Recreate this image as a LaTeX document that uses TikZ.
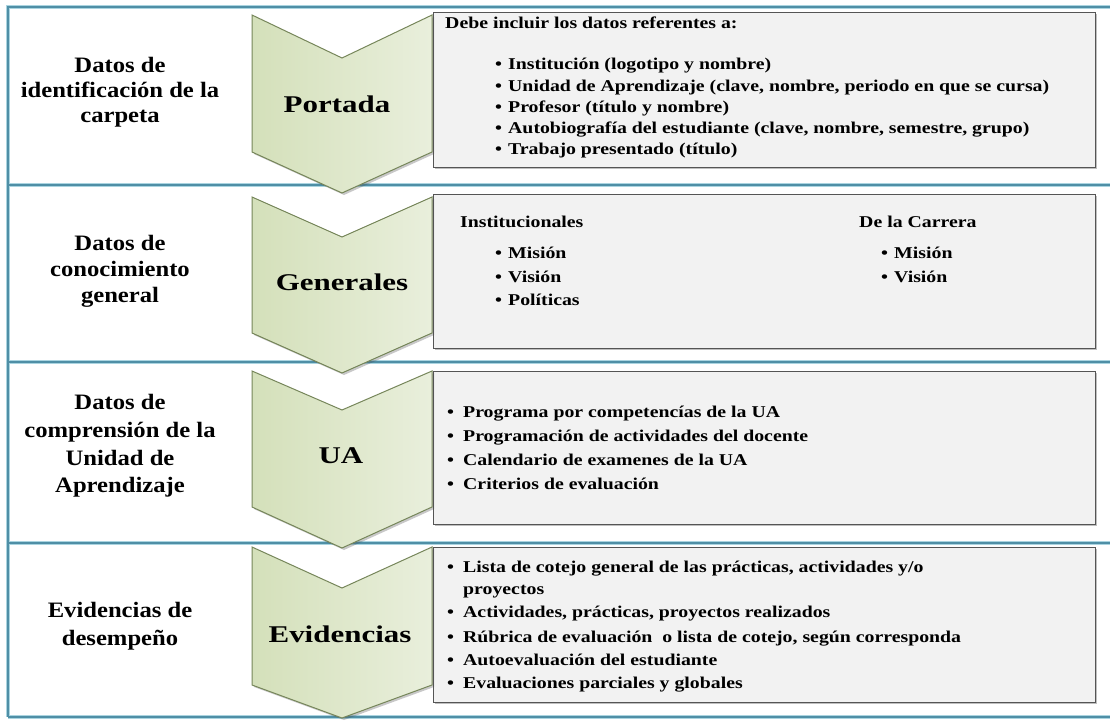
\documentclass[tikz,border=0pt]{standalone}
\usepackage{fontspec}
\setmainfont{Liberation Serif}
\newfontfamily\labfont[FakeStretch=1.12]{Liberation Serif}
\newfontfamily\chevfont[FakeStretch=1.29]{Liberation Serif}
\newfontfamily\boxfont[FakeStretch=1.2]{Liberation Serif}
\usetikzlibrary{shadows}
\definecolor{frameC}{HTML}{4F8FA6}
\definecolor{glowC}{HTML}{AAD4E0}
\definecolor{chevL}{HTML}{D4E0BA}
\definecolor{chevR}{HTML}{E9EFDC}
\definecolor{chevB}{HTML}{76865A}
\definecolor{boxF}{HTML}{F2F2F2}
\definecolor{boxB}{HTML}{555555}
\newcommand\itm[2][13pt]{\makebox[#1][l]{\textbullet}#2}
\begin{document}
\begin{tikzpicture}[x=1pt,y=-1pt,
  frameglow/.style={draw=glowC,line width=4pt},
  framecore/.style={draw=frameC,line width=1.8pt},
  chevron/.style={left color=chevL,right color=chevR,draw=chevB,line width=1pt,
    drop shadow={shadow xshift=2pt,shadow yshift=-2pt,opacity=0.3,fill=black!70}},
  infobox/.style={fill=boxF,draw=boxB,line width=1.2pt,inner sep=0pt,anchor=north west,
    drop shadow={shadow xshift=1.2pt,shadow yshift=-1.2pt,opacity=0.25,fill=black}},
  lab/.style={font=\labfont\bfseries\fontsize{22}{#1}\selectfont,align=center,inner sep=0pt},
  lab/.default=25,
  chevtxt/.style={font=\chevfont\bfseries\fontsize{24}{28}\selectfont,inner sep=0pt,anchor=base},
  boxtxt/.style={font=\boxfont\bfseries\fontsize{16.5}{21}\selectfont,inner sep=0pt,anchor=base west}
]
\useasboundingbox (0,0) rectangle (1110,720);
\fill[white] (0,0) rectangle (1110,720);

% frame
\foreach \s in {frameglow,framecore}{
  \draw[\s] (8,717) -- (8,7) -- (1112,7);
  \draw[\s] (8,185) -- (1112,185);
  \draw[\s] (8,362) -- (1112,362);
  \draw[\s] (8,543) -- (1112,543);
  \draw[\s] (8,717) -- (1112,717);
}

% info boxes
\node[infobox,minimum width=662pt,minimum height=155pt] (box1) at (433,12) {};
\node[infobox,minimum width=662pt,minimum height=154pt] (box2) at (433,194) {};
\node[infobox,minimum width=662pt,minimum height=153pt] (box3) at (433,371) {};
\node[infobox,minimum width=662pt,minimum height=155pt] (box4) at (433,547) {};

% chevrons
\newcommand\chev[4]{\path[chevron] (252,#1) -- (342,#2) -- (432,#1) -- (432,#3) -- (342,#4) -- (252,#3) -- cycle;}
\chev{15}{58}{152}{193}
\chev{197}{237}{333}{373}
\chev{371}{410}{507}{548}
\chev{547}{588}{685}{718}

\node[chevtxt] (c1) at (337,112) {Portada};
\node[chevtxt] (c2) at (342,290) {Generales};
\node[chevtxt] (c3) at (341,463) {UA};
\node[chevtxt] (c4) at (340,642) {Evidencias};

% left labels
\node[lab] (l1) at (120,92) {Datos de\\identificación de la\\carpeta};
\node[lab=26] (l2) at (120,271) {Datos de\\conocimiento\\general};
\node[lab=27.7] (l3) at (120,446) {Datos de\\comprensión de la\\Unidad de\\Aprendizaje};
\node[lab=28] (l4) at (120,626) {Evidencias de\\desempeño};

% box 1
\node[boxtxt] (t10) at (445,28) {Debe incluir los datos referentes a:};
\node[boxtxt] (t11) at (495,69) {\itm{Institución (logotipo y nombre)}};
\node[boxtxt] (t12) at (495,91) {\itm{Unidad de Aprendizaje (clave, nombre, periodo en que se cursa)}};
\node[boxtxt] (t13) at (495,112) {\itm{Profesor (título y nombre)}};
\node[boxtxt] (t14) at (495,133) {\itm{Autobiografía del estudiante (clave, nombre, semestre, grupo)}};
\node[boxtxt] (t15) at (495,154) {\itm{Trabajo presentado (título)}};

% box 2
\node[boxtxt] (t20) at (460,227) {Institucionales};
\node[boxtxt] (t21) at (495,258) {\itm{Misión}};
\node[boxtxt] (t22) at (495,282) {\itm{Visión}};
\node[boxtxt] (t23) at (495,305) {\itm{Políticas}};
\node[boxtxt] (t24) at (859,227) {De la Carrera};
\node[boxtxt] (t25) at (881,258) {\itm{Misión}};
\node[boxtxt] (t26) at (881,282) {\itm{Visión}};

% box 3
\node[boxtxt] (t31) at (447,417) {\itm[16pt]{Programa por competencías de la UA}};
\node[boxtxt] (t32) at (447,441) {\itm[16pt]{Programación de actividades del docente}};
\node[boxtxt] (t33) at (447,465) {\itm[16pt]{Calendario de examenes de la UA}};
\node[boxtxt] (t34) at (447,489) {\itm[16pt]{Criterios de evaluación}};

% box 4
\node[boxtxt] (t41) at (447,572) {\itm[16pt]{Lista de cotejo general de las prácticas, actividades y/o}};
\node[boxtxt] (t42) at (463,594) {proyectos};
\node[boxtxt] (t43) at (447,617) {\itm[16pt]{Actividades, prácticas, proyectos realizados}};
\node[boxtxt] (t44) at (447,642) {\itm[16pt]{Rúbrica de evaluación\ \ o lista de cotejo, según corresponda}};
\node[boxtxt] (t45) at (447,665) {\itm[16pt]{Autoevaluación del estudiante}};
\node[boxtxt] (t46) at (447,688) {\itm[16pt]{Evaluaciones parciales y globales}};
\end{tikzpicture}
\end{document}
